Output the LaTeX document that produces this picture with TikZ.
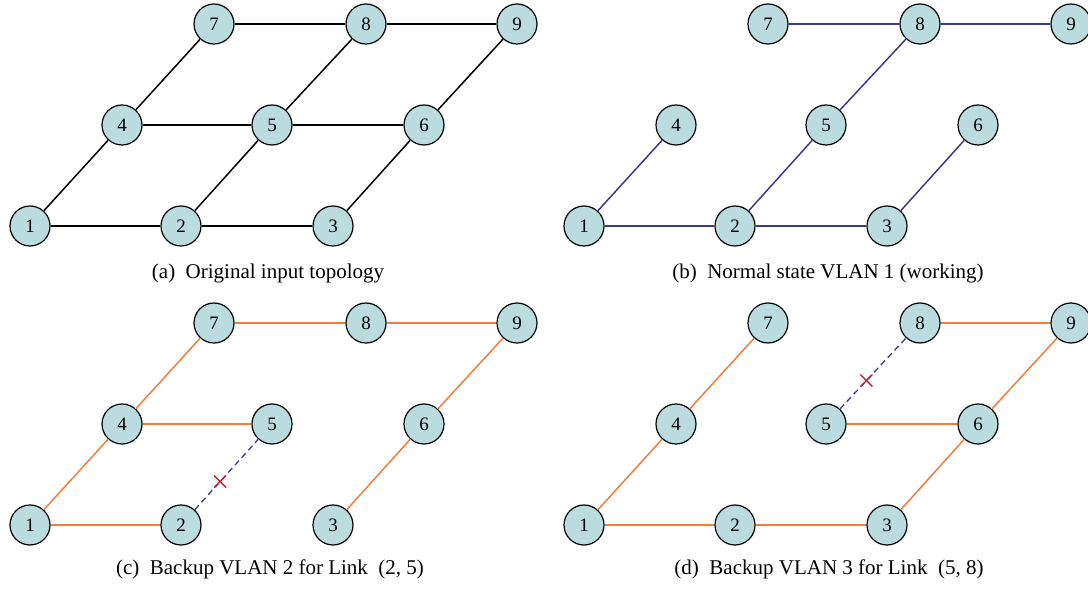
\documentclass[tikz,border=0pt]{standalone}
\usepackage{fontspec}
\setmainfont{Liberation Serif}
\definecolor{nodefill}{RGB}{186,220,223}
\definecolor{navy}{RGB}{58,58,140}
\definecolor{orangeline}{RGB}{240,125,60}
\definecolor{crossred}{RGB}{200,30,50}
\begin{document}
\begin{tikzpicture}[x=1pt,y=-1pt,
  vtx/.style={circle,draw=black,line width=1.2pt,fill=nodefill,minimum size=40pt,
    inner sep=0pt,font=\fontsize{19}{19}\selectfont},
  plain/.style={line width=1.5pt,draw=black},
  work/.style={line width=1.5pt,draw=navy},
  bkp/.style={line width=1.5pt,draw=orangeline},
  fail/.style={line width=1.3pt,draw=navy,dash pattern=on 6pt off 4pt},
  crossmark/.style={line width=1.3pt,draw=crossred},
  captext/.style={font=\fontsize{21}{25}\selectfont,inner sep=0pt}
]
\useasboundingbox (0,0) rectangle (1088,593);
\clip (0,0) rectangle (1088,593);

% four copies of the 3x3 grid of switches
\foreach \p/\dx/\dy in {a/0/0,b/554/0,c/0/299,d/554/299}{
  \foreach \n/\x/\y in {1/30/226,2/181/226,3/333/226,4/122/125,5/272/125,
                        6/424/125,7/214/24,8/366/24,9/517/24}{
    \node[vtx] (\p\n) at (\x+\dx,\y+\dy) {\n};
  }
}

% (a) full topology
\foreach \u/\v in {1/2,2/3,4/5,5/6,7/8,8/9,1/4,4/7,2/5,5/8,3/6,6/9}
  \draw[plain] (a\u) -- (a\v);

% (b) working tree
\foreach \u/\v in {1/2,2/3,7/8,8/9,1/4,2/5,5/8,3/6}
  \draw[work] (b\u) -- (b\v);

% (c) backup tree for link (2,5)
\foreach \u/\v in {1/2,4/5,7/8,8/9,1/4,4/7,3/6,6/9}
  \draw[bkp] (c\u) -- (c\v);
\draw[fail] (c2) -- coordinate[pos=0.4] (cx) (c5);
\draw[crossmark] (cx) ++(-6,-6) -- ++(12,12) (cx) ++(-6,6) -- ++(12,-12);

% (d) backup tree for link (5,8)
\foreach \u/\v in {1/2,2/3,5/6,8/9,1/4,4/7,3/6,6/9}
  \draw[bkp] (d\u) -- (d\v);
\draw[fail] (d5) -- coordinate[pos=0.4] (dx) (d8);
\draw[crossmark] (dx) ++(-6,-6) -- ++(12,12) (dx) ++(-6,6) -- ++(12,-12);

% captions
\node[captext] (capa) at (268,273) {(a)\ \ Original input topology};
\node[captext] (capb) at (828,273) {(b)\ \ Normal state VLAN 1 (working)};
\node[captext] (capc) at (270,569) {(c)\ \ Backup VLAN 2 for Link\ \ (2, 5)};
\node[captext] (capd) at (829,569) {(d)\ \ Backup VLAN 3 for Link\ \ (5, 8)};
\end{tikzpicture}
\end{document}
